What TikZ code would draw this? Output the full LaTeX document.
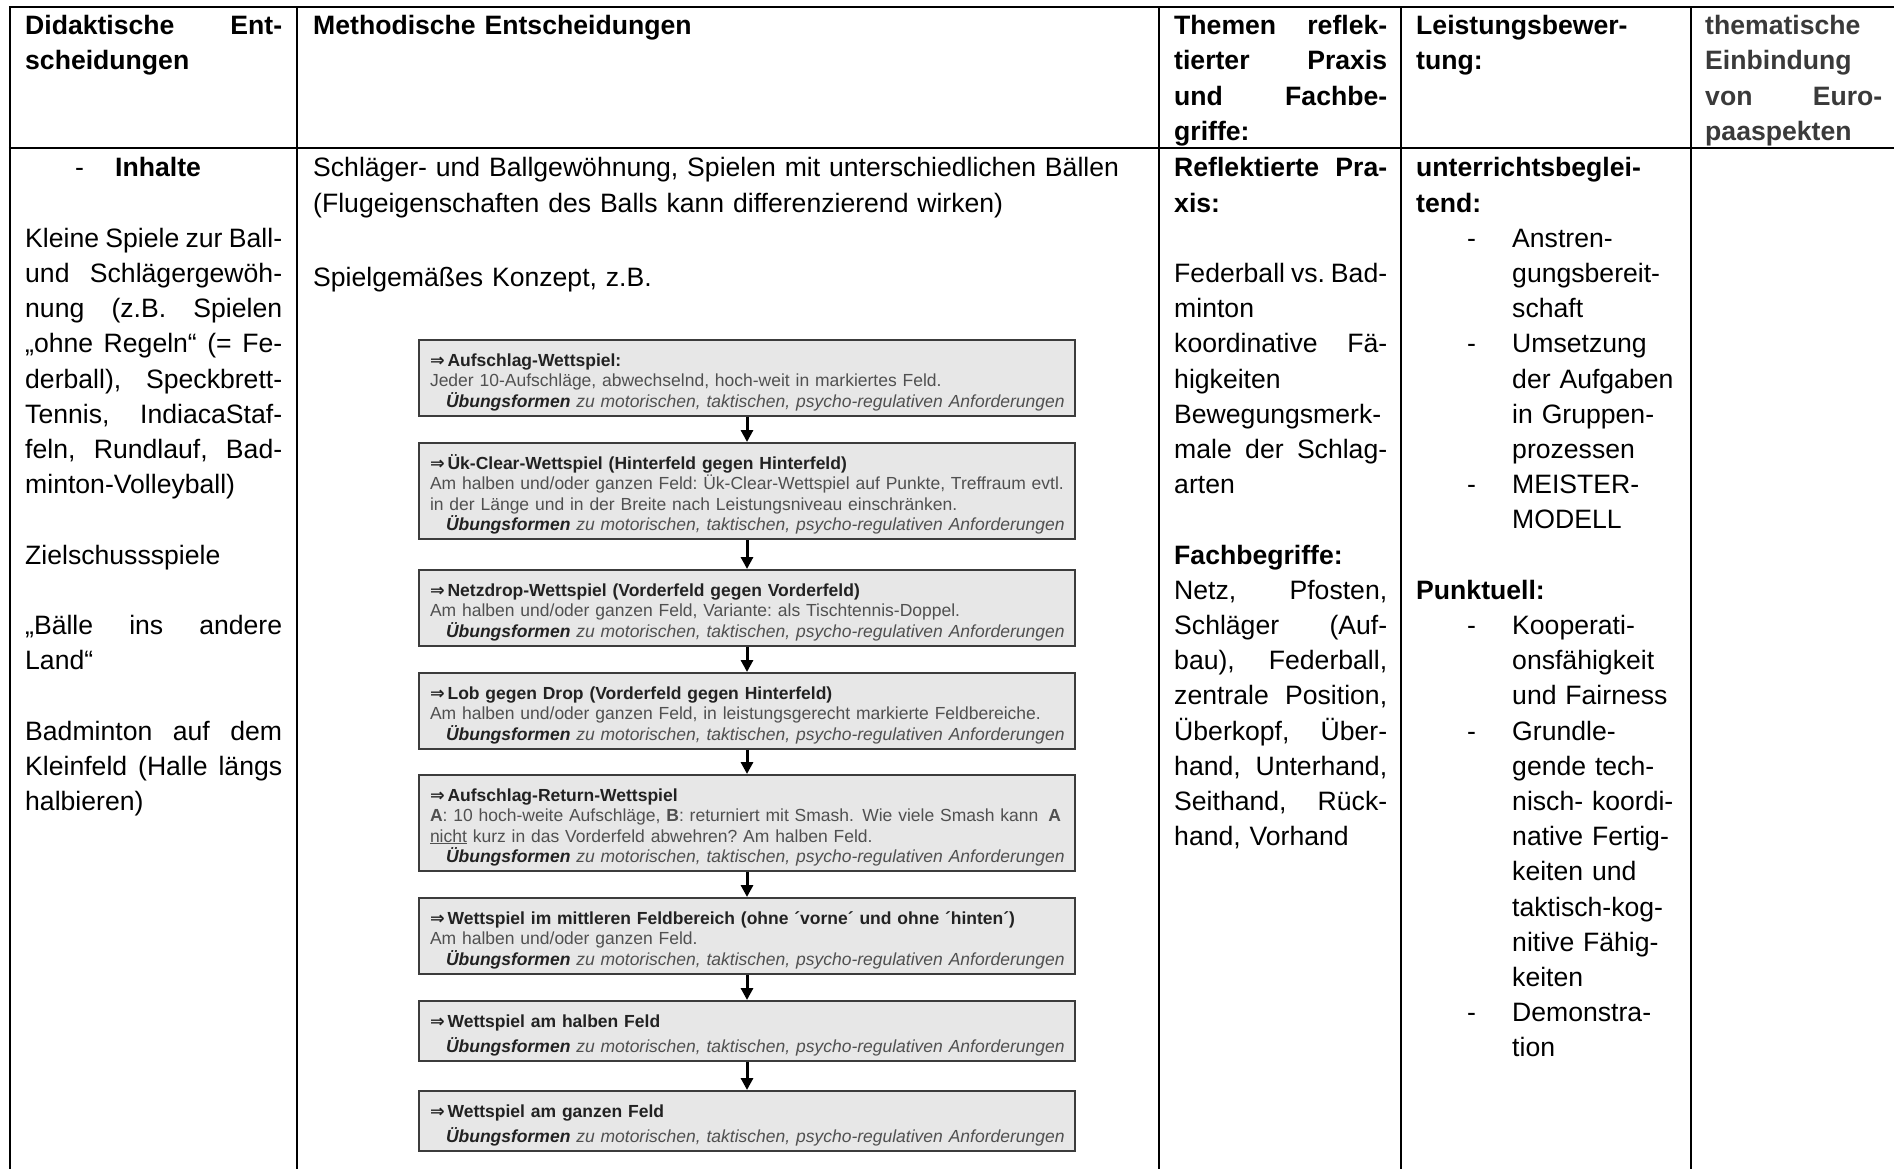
\documentclass[tikz,border=0pt]{standalone}
\usepackage{fontspec}
\setmainfont{Liberation Sans}
\newfontfamily\arrowfont{DejaVu Sans}
\usepackage{xcolor}
\usetikzlibrary{arrows.meta}

\definecolor{boxfill}{HTML}{E7E7E7}
\definecolor{boxline}{HTML}{3C3C3C}
\definecolor{boxtext}{HTML}{505050}
\definecolor{boxdark}{HTML}{222222}
\definecolor{headgray}{HTML}{3A3A3A}

\newlength{\bls}\setlength{\bls}{35.2pt}
\newlength{\colA}\setlength{\colA}{257pt}
\newlength{\colC}\setlength{\colC}{213pt}
\newlength{\colE}\setlength{\colE}{177pt}
\newcommand{\cellfont}{\fontsize{26.6pt}{35.2pt}\selectfont}
\newcommand{\boxfont}{\fontsize{17.5pt}{20.5pt}\selectfont}
\newcommand{\jl}[2]{\makebox[#1][s]{\spaceskip=\fontdimen2\font plus 1fil minus \fontdimen4\font\relax #2}}
\newcommand{\itm}[1]{\makebox[96pt][l]{\hspace*{51pt}-}#1}
\newcommand{\itemind}{\hspace*{96pt}}
\newcommand{\fbtitle}[1]{\rule{0pt}{26pt}{\color{boxdark}\bfseries{\arrowfont ⇒}\,#1}}
\newcommand{\fbuebung}{\mbox{\hspace*{16pt}\itshape{\color{boxdark}\bfseries Übungsformen} zu motorischen, taktischen, psycho-regulativen Anforderungen\rule[-8.5pt]{0pt}{8.5pt}}}

\begin{document}
\frenchspacing
\begin{tikzpicture}[x=1pt, y=-1pt,
	gridline/.style={line width=2.2pt, black},
	tabcell/.style={anchor=north west, inner sep=0pt, align=left, font=\cellfont},
	flowbox/.style={draw=boxline, fill=boxfill, line width=2.2pt, inner xsep=11pt, inner ysep=0pt,
		text width=634pt, align=left, anchor=north, font=\boxfont, text=boxtext},
	flowarrow/.style={line width=3pt, -{Triangle[length=12pt, width=12pt]}}]
	\fill[white] (0,0) rectangle (1894,1169);
	\useasboundingbox (0,0) rectangle (1894,1169);

	% table grid
	\draw[gridline] (8.9,7) -- (1894,7);
	\draw[gridline] (8.9,148) -- (1894,148);
	\foreach \x in {10,297,1159,1401,1691}
		\draw[gridline] (\x,7) -- (\x,1169);

	% header row
	\node[tabcell, text width=\colA, font=\cellfont\bfseries] (h1) at (25,9.9)
		{\strut\jl{\colA}{Didaktische Ent-}\\ scheidungen};
	\node[tabcell, text width=830pt, font=\cellfont\bfseries] (h2) at (313,9.9)
		{\strut Methodische Entscheidungen};
	\node[tabcell, text width=\colC, font=\cellfont\bfseries] (h3) at (1174,9.9)
		{\strut\jl{\colC}{Themen reflek-}\\ \jl{\colC}{tierter Praxis}\\ \jl{\colC}{und Fachbe-}\\ griffe:};
	\node[tabcell, text width=262pt, font=\cellfont\bfseries] (h4) at (1416,9.9)
		{\strut Leistungsbewer-\\ tung:};
	\node[tabcell, text width=\colE, font=\cellfont\bfseries, text=headgray] (h5) at (1705,9.9)
		{\strut thematische\\ Einbindung\\ \jl{\colE}{von Euro-}\\ paaspekten};

	% body row
	\node[tabcell, text width=\colA] (c1) at (25,152)
		{\strut\makebox[90pt][l]{\hspace*{50pt}-}\textbf{Inhalte}\\[\bls]
		\jl{\colA}{Kleine Spiele zur Ball-}\\
		\jl{\colA}{und Schlägergewöh-}\\
		\jl{\colA}{nung (z.B. Spielen}\\
		\jl{\colA}{„ohne Regeln“ (= Fe-}\\
		\jl{\colA}{derball), Speckbrett-}\\
		\jl{\colA}{Tennis, IndiacaStaf-}\\
		\jl{\colA}{feln, Rundlauf, Bad-}\\
		minton-Volleyball)\\[\bls]
		Zielschussspiele\\[\bls]
		\jl{\colA}{„Bälle ins andere}\\
		Land“\\[\bls]
		\jl{\colA}{Badminton auf dem}\\
		\jl{\colA}{Kleinfeld (Halle längs}\\
		halbieren)};
	\node[tabcell, text width=830pt] (c2) at (313,152)
		{\strut Schläger- und Ballgewöhnung, Spielen mit unterschiedlichen Bällen\\
		(Flugeigenschaften des Balls kann differenzierend wirken)\\[39pt]
		Spielgemäßes Konzept, z.B.};
	\node[tabcell, text width=\colC] (c3) at (1174,152)
		{\strut\textbf{\jl{\colC}{Reflektierte Pra-}}\\
		\textbf{xis:}\\[\bls]
		\jl{\colC}{Federball vs. Bad-}\\
		minton\\
		\jl{\colC}{koordinative Fä-}\\
		higkeiten\\
		Bewegungsmerk-\\
		\jl{\colC}{male der Schlag-}\\
		arten\\[\bls]
		\textbf{Fachbegriffe:}\\
		\jl{\colC}{Netz, Pfosten,}\\
		\jl{\colC}{Schläger (Auf-}\\
		\jl{\colC}{bau), Federball,}\\
		\jl{\colC}{zentrale Position,}\\
		\jl{\colC}{Überkopf, Über-}\\
		\jl{\colC}{hand, Unterhand,}\\
		\jl{\colC}{Seithand, Rück-}\\
		hand, Vorhand};
	\node[tabcell, text width=262pt] (c4) at (1416,152)
		{\strut\textbf{unterrichtsbeglei-}\\
		\textbf{tend:}\\
		\itm{Anstren-}\\
		\itemind gungsbereit-\\
		\itemind schaft\\
		\itm{Umsetzung}\\
		\itemind der Aufgaben\\
		\itemind in Gruppen-\\
		\itemind prozessen\\
		\itm{MEISTER-}\\
		\itemind MODELL\\[\bls]
		\textbf{Punktuell:}\\
		\itm{Kooperati-}\\
		\itemind onsfähigkeit\\
		\itemind und Fairness\\
		\itm{Grundle-}\\
		\itemind gende tech-\\
		\itemind nisch- koordi-\\
		\itemind native Fertig-\\
		\itemind keiten und\\
		\itemind taktisch-kog-\\
		\itemind nitive Fähig-\\
		\itemind keiten\\
		\itm{Demonstra-}\\
		\itemind tion};

	% flow chart
	\node[flowbox] (b1) at (747,339)
		{\fbtitle{Aufschlag-Wettspiel:}\\
		\mbox{Jeder 10-Aufschläge, abwechselnd, hoch-weit in markiertes Feld.}\\
		\fbuebung};
	\node[flowbox] (b2) at (747,442)
		{\fbtitle{Ük-Clear-Wettspiel (Hinterfeld gegen Hinterfeld)}\\
		\mbox{Am halben und/oder ganzen Feld: Ük-Clear-Wettspiel auf Punkte, Treffraum evtl.}\\
		\mbox{in der Länge und in der Breite nach Leistungsniveau einschränken.}\\
		\fbuebung};
	\node[flowbox] (b3) at (747,569)
		{\fbtitle{Netzdrop-Wettspiel (Vorderfeld gegen Vorderfeld)}\\
		\mbox{Am halben und/oder ganzen Feld, Variante: als Tischtennis-Doppel.}\\
		\fbuebung};
	\node[flowbox] (b4) at (747,672)
		{\fbtitle{Lob gegen Drop (Vorderfeld gegen Hinterfeld)}\\
		\mbox{Am halben und/oder ganzen Feld, in leistungsgerecht markierte Feldbereiche.}\\
		\fbuebung};
	\node[flowbox] (b5) at (747,774)
		{\fbtitle{Aufschlag-Return-Wettspiel}\\
		\makebox[631pt][s]{\textbf{A}: 10 hoch-weite Aufschläge, \textbf{B}: returniert mit Smash.\hfill Wie viele Smash kann\hspace{10pt}\textbf{A}}\\
		\mbox{\underline{nicht} kurz in das Vorderfeld abwehren? Am halben Feld.}\\
		\fbuebung};
	\node[flowbox] (b6) at (747,897)
		{\fbtitle{Wettspiel im mittleren Feldbereich (ohne ´vorne´ und ohne ´hinten´)}\\
		Am halben und/oder ganzen Feld.\\
		\fbuebung};
	\node[flowbox] (b7) at (747,1000)
		{\fbtitle{Wettspiel am halben Feld}\\[5pt]
		\fbuebung};
	\node[flowbox] (b8) at (747,1090)
		{\fbtitle{Wettspiel am ganzen Feld}\\[5pt]
		\fbuebung};

	\foreach \a/\b in {b1/b2,b2/b3,b3/b4,b4/b5,b5/b6,b6/b7,b7/b8}
		\draw[flowarrow] (\a) -- (\b);
\end{tikzpicture}
\end{document}
